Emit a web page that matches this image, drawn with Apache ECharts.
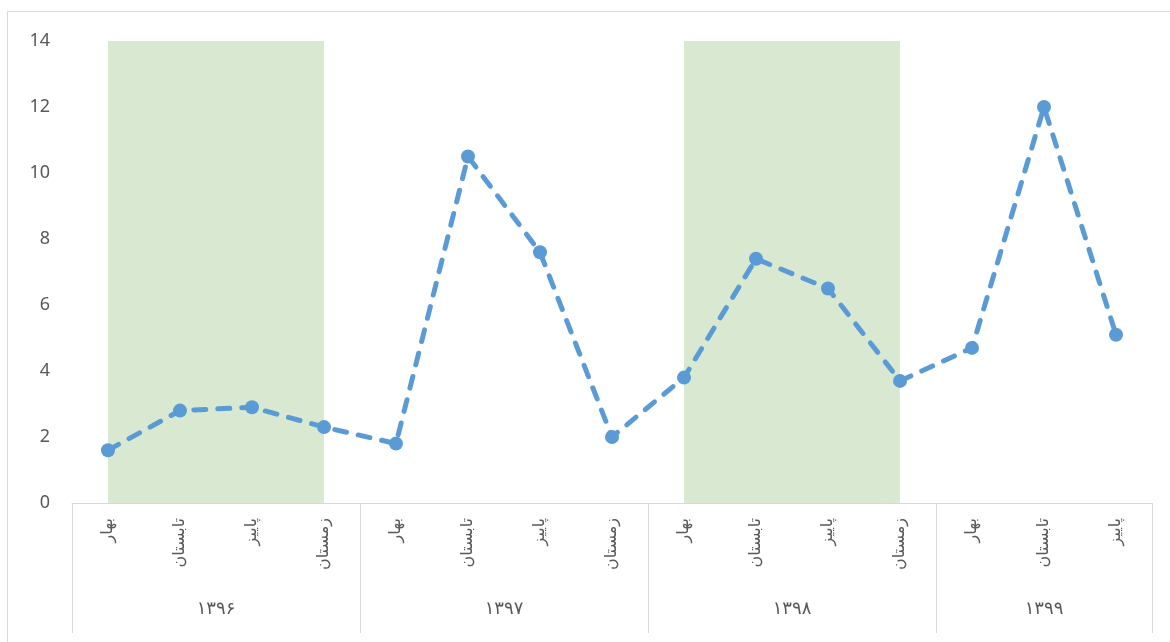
<!DOCTYPE html>
<html>
<head>
<meta charset="utf-8">
<script src="https://cdn.jsdelivr.net/npm/echarts@6/dist/echarts.min.js"></script>
<style>
  html, body { margin: 0; padding: 0; background: #fff; }
  #chart { width: 1170px; height: 642px; }
</style>
</head>
<body>
<div id="chart"></div>
<script>
// Years (Persian calendar) and seasons shown on the two-level category axis
const years = ['۱۳۹۶', '۱۳۹۷', '۱۳۹۸', '۱۳۹۹'];
const seasons = ['بهار', 'تابستان', 'پاییز', 'زمستان'];
const seasonsPerYear = [4, 4, 4, 3];
// Years drawn with a shaded background band
const shadedYears = ['۱۳۹۶', '۱۳۹۸'];
// Quarterly values, in order
const values = [1.6, 2.8, 2.9, 2.3, 1.8, 10.5, 7.6, 2.0, 3.8, 7.4, 6.5, 3.7, 4.7, 12.0, 5.1];
// Value-axis ticks
const yTicks = { min: 0, max: 14, step: 2 };

// Build the flat category list and the year group boundaries
const categories = [];
const groupStart = [];
years.forEach((y, i) => {
  groupStart.push(categories.length);
  seasons.slice(0, seasonsPerYear[i]).forEach(s => categories.push(s));
});
const total = categories.length;
const boundaries = groupStart.concat([total]);
const yearCenters = years.map((y, i) => groupStart[i] + seasonsPerYear[i] / 2);

// Shaded bands run from the first to the last point of each shaded year
const bands = shadedYears.map(y => {
  const i = years.indexOf(y);
  return [
    { xAxis: groupStart[i], yAxis: yTicks.min },
    { xAxis: groupStart[i] + seasonsPerYear[i] - 1, yAxis: yTicks.max }
  ];
});

const gray = '#595959';
const lineGray = '#d9d9d9';
const blue = '#5b9bd5';

const chart = echarts.init(document.getElementById('chart'));
chart.setOption({
  animation: false,
  graphic: [{
    type: 'rect',
    shape: { x: 7.5, y: 11.5, width: 1200, height: 700 },
    style: { fill: 'none', stroke: lineGray, lineWidth: 1 },
    silent: true
  }],
  grid: { left: 72, right: 18, top: 41, bottom: 139 },
  xAxis: [{
    type: 'category',
    data: categories,
    boundaryGap: true,
    axisLine: { show: true, lineStyle: { color: lineGray, width: 1 } },
    axisTick: { show: false },
    axisLabel: {
      interval: 0,
      rotate: 90,
      margin: 15,
      color: gray,
      fontSize: 16,
      fontFamily: 'DejaVu Sans'
    },
    splitLine: { show: false }
  }, {
    type: 'value',
    position: 'bottom',
    min: 0,
    max: total,
    axisLine: { show: false },
    axisTick: {
      show: true,
      customValues: boundaries,
      length: 130,
      lineStyle: { color: lineGray, width: 1 }
    },
    axisLabel: {
      show: true,
      customValues: yearCenters,
      margin: 97,
      color: gray,
      fontSize: 18,
      fontFamily: 'DejaVu Sans',
      formatter: v => {
        const i = yearCenters.indexOf(v);
        return i >= 0 ? years[i] : '';
      }
    },
    splitLine: { show: false }
  }],
  yAxis: {
    type: 'value',
    min: yTicks.min,
    max: yTicks.max,
    interval: yTicks.step,
    axisLine: { show: false },
    axisTick: { show: false },
    splitLine: { show: false },
    axisLabel: {
      color: gray,
      fontSize: 18,
      margin: 22,
      fontFamily: 'Noto Sans'
    }
  },
  series: [{
    type: 'line',
    xAxisIndex: 0,
    data: values,
    symbol: 'circle',
    symbolSize: 14,
    itemStyle: { color: blue },
    lineStyle: { color: blue, width: 5, type: [12, 12], cap: 'round' },
    z: 3,
    markArea: {
      silent: true,
      itemStyle: { color: '#d9e9d1' },
      data: bands
    }
  }]
});
</script>
</body>
</html>
